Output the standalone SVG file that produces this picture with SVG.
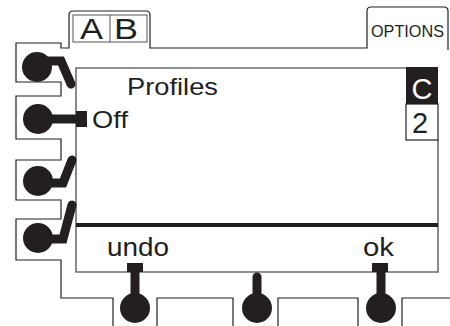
<svg xmlns="http://www.w3.org/2000/svg" width="450" height="326" viewBox="0 0 450 326">
<style>
.frame{fill:none;stroke:#231f20;stroke-width:1.2}
.knob{fill:#231f20}
.lever{fill:none;stroke:#231f20;stroke-width:9;stroke-linejoin:miter}
.t{font-family:"Liberation Sans",Arial,sans-serif;fill:#231f20}
</style>
<rect width="450" height="326" fill="#fff"/>
<g id="frame">
<path class="frame" d="M448,50 L448,11 Q448,7 444,7 L371,7 Q367,7 367,11 L367,48 L150,48 L150,15 Q150,11 146,11 L73,11 Q69,11 69,15 L69,48 L61,48 L61,43 L16,43 L16,82 L61,82 L61,96 L16,96 L16,139 L61,139 L61,160 L16,160 L16,200 L61,200 L61,219 L16,219 L16,260 L61,260 L61,298 L113,298 L113,326"/>
<path class="frame" d="M157,326 L157,298 L233,298 L233,326 M278,326 L278,298 L358,298 L358,326 M402,326 L402,298 L450,298"/>
</g>
<g id="tab-ab">
<rect x="73" y="15" width="74" height="27" fill="#fff" stroke="#555" stroke-width="1"/>
<line x1="110" y1="15" x2="110" y2="42" stroke="#555" stroke-width="1"/>
<text class="t" x="80" y="39" font-size="29" textLength="23" lengthAdjust="spacingAndGlyphs">A</text>
<text class="t" x="114" y="39" font-size="29" textLength="24" lengthAdjust="spacingAndGlyphs">B</text>
</g>
<g id="tab-options">
<text class="t" x="371" y="37" font-size="17" textLength="73" lengthAdjust="spacingAndGlyphs">OPTIONS</text>
</g>
<g id="screen">
<path d="M406,68 L76,68 L76,272 L438,272 L438,140" fill="none" stroke="#6d6d6d" stroke-width="1.6"/>
<line x1="76" y1="225" x2="438" y2="225" stroke="#231f20" stroke-width="4"/>
<text class="t" x="127" y="95" font-size="24" textLength="91" lengthAdjust="spacingAndGlyphs">Profiles</text>
<text class="t" x="92" y="128" font-size="24" textLength="36" lengthAdjust="spacingAndGlyphs">Off</text>
<text class="t" x="107" y="256" font-size="26" textLength="62" lengthAdjust="spacingAndGlyphs">undo</text>
<text class="t" x="363" y="256" font-size="26" textLength="31" lengthAdjust="spacingAndGlyphs">ok</text>
</g>
<g id="indicator-c">
<rect x="406" y="67" width="32" height="37" fill="#231f20"/>
<text class="t" x="422" y="99" font-size="29" text-anchor="middle" style="fill:#fff">C</text>
</g>
<g id="indicator-2">
<rect x="406" y="104" width="32" height="36" fill="#fff" stroke="#231f20" stroke-width="1.2"/>
<text class="t" x="420" y="133" font-size="29" text-anchor="middle">2</text>
</g>
<g id="connectors">
<polyline class="lever" points="40,61 61,61 71,84" stroke-linecap="round"/>
<polyline class="lever" points="40,119 78,119"/>
<polyline class="lever" points="40,183 63,183 72,160" stroke-linecap="round"/>
<polyline class="lever" points="40,239 63,239 72,205" stroke-linecap="round"/>
<line class="lever" x1="135" y1="300" x2="135" y2="270"/>
<line class="lever" x1="257" y1="300" x2="257" y2="277" stroke-linecap="round"/>
<line class="lever" x1="381" y1="300" x2="381" y2="270"/>
</g>
<g id="btn-left-1"><circle class="knob" cx="37" cy="67" r="15"/></g>
<g id="btn-left-2"><circle class="knob" cx="38" cy="119" r="15"/><rect class="knob" x="76" y="111" width="11" height="16"/></g>
<g id="btn-left-3"><circle class="knob" cx="38" cy="181" r="15"/></g>
<g id="btn-left-4"><circle class="knob" cx="38" cy="238" r="15"/></g>
<g id="btn-undo"><circle class="knob" cx="135" cy="308" r="15"/><rect class="knob" x="127" y="263" width="16" height="9"/></g>
<g id="btn-mid"><circle class="knob" cx="257" cy="308" r="15"/></g>
<g id="btn-ok"><circle class="knob" cx="381" cy="308" r="15"/><rect class="knob" x="372" y="263" width="16" height="9"/></g>
</svg>
